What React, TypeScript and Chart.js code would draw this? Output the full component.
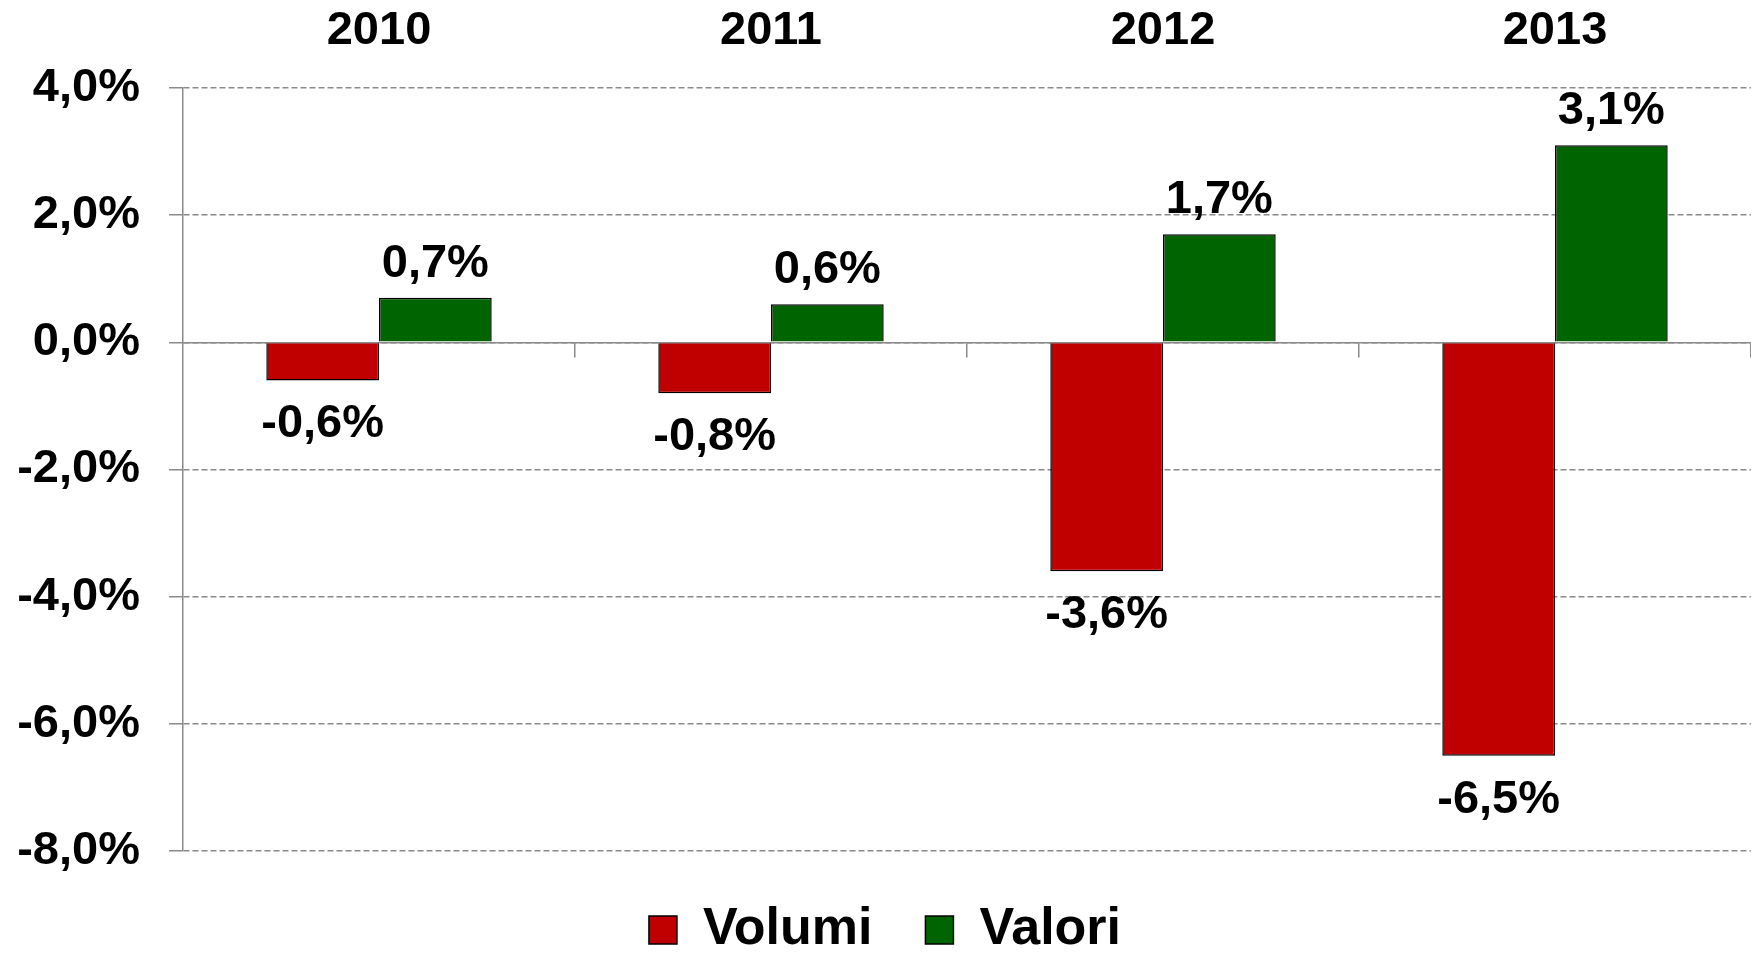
import React, { useEffect, useRef } from 'react';
import { Chart, registerables } from 'chart.js';

Chart.register(...registerables);

const categories = ['2010', '2011', '2012', '2013'];
const seriesNames = ['Volumi', 'Valori'];
const volumi = [-0.6, -0.8, -3.6, -6.5];
const valori = [0.7, 0.6, 1.7, 3.1];
const yTicks = [-8, -6, -4, -2, 0, 2, 4];

const FONT = "'Liberation Sans', Arial, Helvetica, sans-serif";
const GRID = '#8a8a8a';
const RED = '#C00000';
const GREEN = '#006400';

const fmt = (v: number) => v.toFixed(1).replace('.', ',') + '%';

const valueLabels = {
  id: 'valueLabels',
  afterDatasetsDraw(chart: any) {
    const ctx = chart.ctx;
    ctx.save();
    ctx.font = `bold 47px ${FONT}`;
    ctx.fillStyle = '#000';
    ctx.textAlign = 'center';
    ctx.textBaseline = 'alphabetic';
    chart.data.datasets.forEach((ds: any, di: number) => {
      const meta = chart.getDatasetMeta(di);
      meta.data.forEach((el: any, i: number) => {
        const v = ds.data[i] as number;
        const y = v >= 0 ? el.y - 21 : el.y + 57;
        ctx.fillText(fmt(v), el.x, y);
      });
    });
    ctx.restore();
  },
};

export default function App() {
  const ref = useRef<HTMLCanvasElement | null>(null);

  useEffect(() => {
    if (!ref.current) return;
    const chart = new Chart(ref.current, {
      type: 'bar',
      data: {
        labels: categories,
        datasets: [
          {
            label: seriesNames[0],
            data: volumi,
            backgroundColor: RED,
            borderColor: '#000',
            borderWidth: 1.5,
          },
          {
            label: seriesNames[1],
            data: valori,
            backgroundColor: GREEN,
            borderColor: '#000',
            borderWidth: 1.5,
          },
        ],
      },
      options: {
        responsive: false,
        animation: false,
        events: [],
        datasets: {
          bar: { categoryPercentage: 0.575, barPercentage: 1 },
        },
        layout: { padding: { top: 0, left: 15, right: -4, bottom: -13 } },
        scales: {
          x: {
            type: 'category',
            position: { y: 0 } as any,
            offset: true,
            grid: {
              offset: true,
              drawOnChartArea: false,
              drawTicks: true,
              tickLength: 14,
              color: GRID,
              lineWidth: 1.5,
              tickColor: (c: any) =>
                c.index === 0 || c.index >= categories.length ? 'rgba(0,0,0,0)' : GRID,
            },
            border: { display: true, color: GRID, width: 1.5, z: 1 },
            ticks: { display: false },
          },
          xTop: {
            type: 'category',
            position: 'top',
            offset: true,
            grid: { display: false, drawTicks: false },
            border: { display: false },
            ticks: {
              color: '#000',
              padding: 29,
              font: { family: FONT, size: 47, weight: 'bold' },
            },
            afterFit: (s: any) => {
              s.height = 88;
            },
          },
          y: {
            type: 'linear',
            min: yTicks[0],
            max: yTicks[yTicks.length - 1],
            afterBuildTicks: (s: any) => {
              s.ticks = yTicks.map((v) => ({ value: v }));
            },
            ticks: {
              color: '#000',
              padding: 29,
              font: { family: FONT, size: 47, weight: 'bold' },
              callback: (v: any) => fmt(Number(v)),
            },
            grid: {
              color: GRID,
              lineWidth: 1.5,
              drawTicks: true,
              tickLength: 14,
              tickBorderDash: [],
            },
            border: { display: true, color: GRID, width: 1.5, dash: [6, 3] },
            afterFit: (s: any) => {
              s.width = 168;
            },
          },
        },
        plugins: {
          legend: {
            position: 'bottom',
            labels: {
              boxWidth: 28,
              boxHeight: 28,
              padding: 53,
              color: '#000',
              font: { family: FONT, size: 52, weight: 'bold' },
            },
          },
          tooltip: { enabled: false },
          title: { display: false },
        },
      } as any,
      plugins: [valueLabels],
    });
    return () => chart.destroy();
  }, []);

  return (
    <div style={{ position: 'fixed', left: 0, top: 0, width: 1751, height: 953, background: '#fff' }}>
      <canvas ref={ref} width={1751} height={953} style={{ display: 'block' }} />
    </div>
  );
}
